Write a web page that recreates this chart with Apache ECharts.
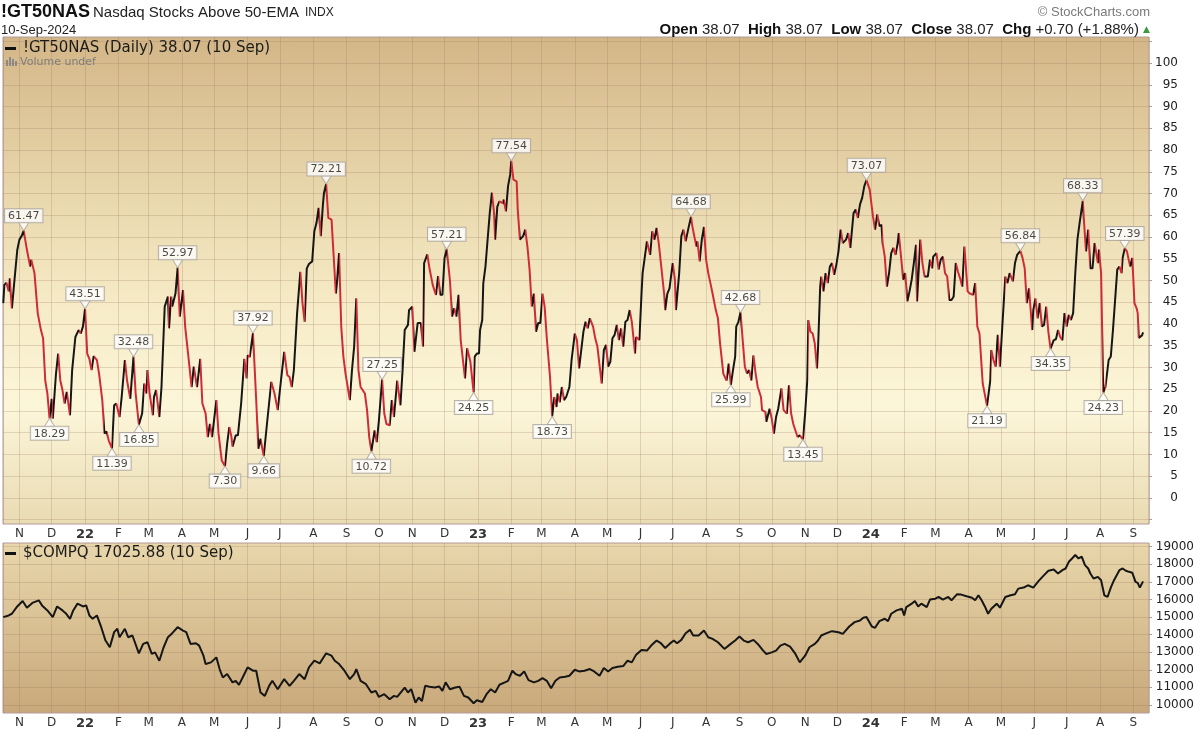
<!DOCTYPE html>
<html>
<head>
<meta charset="utf-8">
<title>!GT50NAS Nasdaq Stocks Above 50-EMA</title>
<script src="https://cdn.jsdelivr.net/npm/echarts@6/dist/echarts.min.js"></script>
<style>
html, body { margin: 0; padding: 0; background: #fff; }
#chart { width: 1200px; height: 731px; }
</style>
</head>
<body>
<div id="chart"></div>
<script>
// !GT50NAS daily closes (turning points only)
const gtDates = [
  '2021-10-17','2021-10-18','2021-10-20','2021-10-22','2021-10-23','2021-10-25','2021-10-27','2021-10-28','2021-10-30',
  '2021-11-01','2021-11-03','2021-11-05','2021-11-08','2021-11-11','2021-11-12','2021-11-15','2021-11-18','2021-11-21','2021-11-23','2021-11-25','2021-11-27','2021-11-29',
  '2021-12-01','2021-12-02','2021-12-05','2021-12-07','2021-12-09','2021-12-11','2021-12-13','2021-12-15','2021-12-18','2021-12-20','2021-12-23','2021-12-26','2021-12-28','2021-12-30',
  '2022-01-01','2022-01-03','2022-01-05','2022-01-07','2022-01-09','2022-01-12','2022-01-14','2022-01-17','2022-01-19','2022-01-21','2022-01-23','2022-01-26','2022-01-28','2022-01-30',
  '2022-02-02','2022-02-04','2022-02-07','2022-02-09','2022-02-12','2022-02-15','2022-02-17','2022-02-20','2022-02-23','2022-02-25','2022-02-27','2022-02-28',
  '2022-03-02','2022-03-05','2022-03-06','2022-03-08','2022-03-11','2022-03-13','2022-03-16','2022-03-19','2022-03-20','2022-03-22','2022-03-23','2022-03-26','2022-03-28','2022-03-30',
  '2022-04-02','2022-04-04','2022-04-07','2022-04-10','2022-04-12','2022-04-15','2022-04-18','2022-04-20','2022-04-23','2022-04-25','2022-04-27','2022-04-29',
  '2022-05-03','2022-05-05','2022-05-08','2022-05-11','2022-05-13','2022-05-15','2022-05-17','2022-05-18','2022-05-21','2022-05-23','2022-05-26','2022-05-29','2022-05-31',
  '2022-06-01','2022-06-03','2022-06-06','2022-06-09','2022-06-11','2022-06-13','2022-06-16','2022-06-19','2022-06-23','2022-06-26','2022-06-29',
  '2022-07-02','2022-07-05','2022-07-08','2022-07-10','2022-07-12','2022-07-14','2022-07-17','2022-07-20','2022-07-22','2022-07-24','2022-07-26','2022-07-28','2022-07-31',
  '2022-08-02','2022-08-04','2022-08-06','2022-08-08','2022-08-10','2022-08-11','2022-08-13','2022-08-15','2022-08-18','2022-08-20','2022-08-22','2022-08-23','2022-08-25','2022-08-27','2022-08-29','2022-08-31',
  '2022-09-04','2022-09-06','2022-09-08','2022-09-10','2022-09-12','2022-09-14','2022-09-18','2022-09-20','2022-09-22','2022-09-24','2022-09-27','2022-09-29',
  '2022-10-01','2022-10-04','2022-10-06','2022-10-08','2022-10-11','2022-10-13','2022-10-15','2022-10-18','2022-10-21','2022-10-23','2022-10-25','2022-10-28','2022-10-29',
  '2022-11-01','2022-11-03','2022-11-06','2022-11-09','2022-11-11','2022-11-12','2022-11-15','2022-11-17','2022-11-20','2022-11-23','2022-11-25','2022-11-27','2022-11-29',
  '2022-12-01','2022-12-03','2022-12-06','2022-12-08','2022-12-10','2022-12-12','2022-12-14','2022-12-16','2022-12-20','2022-12-22','2022-12-25','2022-12-28','2022-12-29','2022-12-31',
  '2023-01-02','2023-01-03','2023-01-05','2023-01-06','2023-01-08','2023-01-10','2023-01-12','2023-01-14','2023-01-16','2023-01-17','2023-01-19','2023-01-21','2023-01-24','2023-01-25','2023-01-27','2023-01-29','2023-01-31',
  '2023-02-01','2023-02-03','2023-02-06','2023-02-07','2023-02-09','2023-02-12','2023-02-14','2023-02-16','2023-02-18','2023-02-20','2023-02-22','2023-02-24','2023-02-26','2023-02-28',
  '2023-03-02','2023-03-04','2023-03-06','2023-03-09','2023-03-11','2023-03-13','2023-03-15','2023-03-16','2023-03-18','2023-03-20','2023-03-22','2023-03-24','2023-03-27','2023-03-29',
  '2023-04-01','2023-04-03','2023-04-05','2023-04-09','2023-04-11','2023-04-13','2023-04-15','2023-04-18','2023-04-20','2023-04-22','2023-04-26','2023-04-28','2023-04-30',
  '2023-05-02','2023-05-04','2023-05-06','2023-05-08','2023-05-10','2023-05-12','2023-05-14','2023-05-16','2023-05-18','2023-05-20','2023-05-22','2023-05-24','2023-05-27','2023-05-28','2023-05-31',
  '2023-06-02','2023-06-03','2023-06-06','2023-06-07','2023-06-10','2023-06-12','2023-06-14','2023-06-16','2023-06-18','2023-06-20','2023-06-23','2023-06-24','2023-06-26','2023-06-28',
  '2023-07-01','2023-07-03','2023-07-04','2023-07-07','2023-07-09','2023-07-11','2023-07-13','2023-07-16','2023-07-18','2023-07-19','2023-07-21','2023-07-23','2023-07-24','2023-07-26','2023-07-28','2023-07-30',
  '2023-08-01','2023-08-03','2023-08-05','2023-08-07','2023-08-10','2023-08-12','2023-08-14','2023-08-17','2023-08-19','2023-08-20','2023-08-22','2023-08-24','2023-08-26','2023-08-28','2023-08-29','2023-08-31',
  '2023-09-02','2023-09-04','2023-09-06','2023-09-08','2023-09-10','2023-09-12','2023-09-14','2023-09-16','2023-09-18','2023-09-21','2023-09-22','2023-09-25','2023-09-26','2023-09-29',
  '2023-10-01','2023-10-03','2023-10-05','2023-10-07','2023-10-10','2023-10-12','2023-10-15','2023-10-17','2023-10-19','2023-10-21','2023-10-23','2023-10-25','2023-10-27','2023-10-30',
  '2023-11-01','2023-11-03','2023-11-04','2023-11-06','2023-11-08','2023-11-10','2023-11-12','2023-11-13','2023-11-15','2023-11-16','2023-11-18','2023-11-20','2023-11-22','2023-11-24','2023-11-26','2023-11-28','2023-11-30',
  '2023-12-02','2023-12-04','2023-12-06','2023-12-09','2023-12-11','2023-12-13','2023-12-16','2023-12-18','2023-12-20','2023-12-22','2023-12-24','2023-12-26','2023-12-28','2023-12-31',
  '2024-01-03','2024-01-05','2024-01-07','2024-01-09','2024-01-11','2024-01-12','2024-01-14','2024-01-16','2024-01-18','2024-01-20','2024-01-22','2024-01-24','2024-01-26','2024-01-27','2024-01-30','2024-01-31',
  '2024-02-02','2024-02-04','2024-02-06','2024-02-08','2024-02-10','2024-02-12','2024-02-13','2024-02-16','2024-02-18','2024-02-20','2024-02-23','2024-02-25','2024-02-27','2024-02-28',
  '2024-03-02','2024-03-04','2024-03-06','2024-03-08','2024-03-10','2024-03-12','2024-03-14','2024-03-16','2024-03-18','2024-03-20','2024-03-22','2024-03-24','2024-03-26','2024-03-28','2024-03-31',
  '2024-04-02','2024-04-05','2024-04-07','2024-04-09','2024-04-11','2024-04-13','2024-04-14','2024-04-17','2024-04-18','2024-04-21','2024-04-22','2024-04-24','2024-04-26','2024-04-28','2024-04-30',
  '2024-05-02','2024-05-05','2024-05-07','2024-05-09','2024-05-12','2024-05-14','2024-05-16','2024-05-19','2024-05-21','2024-05-23','2024-05-25','2024-05-27','2024-05-30','2024-05-31',
  '2024-06-02','2024-06-04','2024-06-06','2024-06-08','2024-06-10','2024-06-12','2024-06-14','2024-06-16','2024-06-19','2024-06-21','2024-06-23','2024-06-25','2024-06-27','2024-06-29',
  '2024-07-01','2024-07-03','2024-07-05','2024-07-07','2024-07-09','2024-07-11','2024-07-13','2024-07-16','2024-07-17','2024-07-19','2024-07-21','2024-07-23','2024-07-25','2024-07-27','2024-07-30','2024-07-31',
  '2024-08-02','2024-08-04','2024-08-06','2024-08-07','2024-08-09','2024-08-11','2024-08-13','2024-08-15','2024-08-17','2024-08-19','2024-08-21','2024-08-22','2024-08-24','2024-08-26','2024-08-29','2024-08-31',
  '2024-09-02','2024-09-04','2024-09-05','2024-09-06','2024-09-09','2024-09-10'
]
const gtValues = [
  44.8, 49, 49.5, 47.5, 50.5, 43.6, 49, 49.4, 57,
  59.4, 60.2, 61.47, 57, 53.2, 54.8, 51.7, 42.5, 38.6, 36.7, 27, 24, 18.29,
  22.8, 18.2, 28.6, 33.2, 27, 24.8, 21.7, 24.4, 19, 29.4, 37, 38.6, 37.8, 39.4,
  43.51, 33.2, 32, 29.4, 32.6, 31.7, 28.6, 22.5, 14.8, 15.3, 13.2, 11.39, 21.3, 21.7,
  18.6, 23.2, 31.7, 27, 22.8, 32.48, 24, 16.85, 19.4, 26.3, 24, 29.4,
  24, 19, 23.2, 24.8, 18.6, 25.5, 44, 46.3, 39, 46.3, 44, 47, 52.97, 41.7,
  47.8, 39.4, 32.5, 25.5, 30.2, 25.5, 32, 21.7, 19.4, 14, 17, 14,
  22.5, 14.8, 8.6, 7.3, 12.5, 16.3, 14, 11.8, 14.4, 14.4, 21.7, 32, 27.5,
  32.8, 32.4, 37.92, 22.5, 11.3, 13.6, 9.66, 17, 26.7, 24, 20.2,
  27, 33.6, 28.2, 27.8, 25.5, 29.4, 42.5, 52, 44.8, 40.5, 52.8, 53.8, 54.4,
  61.3, 63.2, 66.7, 60.2, 67.5, 70.2, 72.21, 64.4, 64, 55.5, 47, 49.4, 56.3, 39.4, 32.5, 28.6,
  22.5, 29.4, 34.8, 45.9, 29.4, 25.5, 24, 20.2, 14, 10.72, 15.5, 12.8,
  17.8, 27.25, 19.4, 17, 16.7, 22.5, 18.6, 27, 21.3, 29.4, 38.6, 39.8, 43.2,
  44, 33.6, 40.2, 40.2, 34.8, 54, 56, 52.8, 49, 46.7, 51, 46.7, 46.7,
  55.2, 57.21, 50, 41.7, 43.6, 41.7, 46.7, 36.3, 27.5, 34.4, 31.3, 24.25, 32.5, 33.2,
  33.2, 38.6, 40.9, 49.4, 53.2, 59.4, 65.5, 70.2, 65.5, 59.4, 67, 68.2, 67.8, 68.6, 65.9, 71.7, 74.4,
  77.54, 73.2, 72.8, 66.3, 59.4, 60.2, 61.7, 57.8, 52.5, 44, 47, 38.2, 40.2, 40.2,
  47, 44, 36.7, 27.8, 18.73, 23.2, 20.9, 24, 22, 25.5, 22.5, 23.2, 25.5, 31.7,
  37.8, 36.3, 29.8, 38.2, 40.5, 39, 41.3, 39.4, 36.7, 34.8, 26.3, 34, 35.2,
  30.2, 31.3, 36.7, 37.5, 39.8, 36.3, 39, 34.8, 40.5, 40.9, 43.2, 40.5, 33.2, 37, 36.3,
  47, 51.7, 57.1, 59, 55.9, 61.3, 59.4, 62.1, 58.6, 54, 47, 43.2, 47, 48.2,
  54, 50.2, 43.2, 51.7, 60.2, 61.7, 59, 62.5, 64.68, 62.8, 60.2, 57.8, 59, 54.4, 59.4, 62.3,
  54.8, 51.7, 49.4, 47, 43.2, 41.3, 35.5, 28.6, 27.5, 27, 30.9, 25.99, 29.4, 32.5, 39.4, 40.5,
  42.68, 36.3, 30.2, 28.6, 29.4, 27, 32.8, 28.6, 25.5, 23.2, 20.2, 19.8, 17.5, 20.5,
  18.2, 14.8, 18.6, 20.5, 25.2, 20.2, 19.4, 25.9, 19.4, 17, 15.5, 14, 14.4, 13.45,
  19.4, 27, 40.9, 38.2, 37.8, 35.5, 29.8, 34.4, 48.6, 50.9, 47.5, 51.7, 49.4, 53.2, 54, 51.3, 53.6,
  56.7, 61.7, 58.6, 59.4, 60.9, 57.5, 65.5, 66.3, 64.4, 67.5, 69, 71.7, 73.07, 70.9,
  64.8, 61.7, 65.2, 62.5, 62.8, 58.6, 55.5, 48.6, 51.7, 56.3, 57.5, 55.9, 58.6, 60.9, 53.2, 50.2,
  51.7, 45.2, 47.5, 50.2, 54, 58.2, 45.2, 59.4, 54, 50.9, 50.9, 54.8, 52.8, 55.5,
  56.3, 52.5, 54.8, 55.5, 51.7, 50.9, 45.5, 45.5, 46.3, 54, 52, 50.5, 48.6, 57.8, 47.5,
  47, 46.7, 49.4, 39.4, 37.8, 30.2, 26.3, 22.5, 21.19, 27, 34, 31.7, 30.2, 37.5, 30.2,
  38.6, 50.9, 49.4, 51.7, 49.8, 54, 55.9, 56.84, 55.2, 52.8, 44.8, 48.2, 38.6, 43.2,
  45.9, 41.3, 44.8, 39.4, 39.8, 44, 38.2, 34.35, 36.3, 36.5, 38.6, 37, 36.3, 42.5,
  39.4, 42.1, 40.9, 42.5, 51.7, 59.4, 63.2, 68.33, 64, 56.7, 61.7, 52.8, 52.8, 58.6, 54, 57.1,
  51.7, 24.23, 25.5, 25.2, 31.7, 32.5, 38.6, 45.5, 52.5, 53.2, 51.7, 55.2, 57.39, 56.7, 53.2, 55.2,
  44.8, 43.6, 42.5, 36.8, 37.37, 38.07
]

// annotated swing highs / lows
const peakDates = ['2021-11-05','2022-01-01','2022-02-15','2022-03-28','2022-06-06','2022-08-13','2022-10-04','2022-12-03',
  '2023-02-01','2023-07-18','2023-09-02','2023-12-28','2024-05-19','2024-07-16','2024-08-24']
const troughDates = ['2021-11-29','2022-01-26','2022-02-20','2022-05-11','2022-06-16','2022-09-24','2022-12-28',
  '2023-03-11','2023-08-24','2023-10-30','2024-04-18','2024-06-16','2024-08-04']

// $COMPQ closes
const compDates = [
  '2021-10-17','2021-10-22','2021-10-25','2021-10-30',
  '2021-11-04','2021-11-08','2021-11-13','2021-11-19','2021-11-22','2021-11-27',
  '2021-12-02','2021-12-06','2021-12-11','2021-12-14','2021-12-18','2021-12-21','2021-12-25','2021-12-30',
  '2022-01-02','2022-01-05','2022-01-08','2022-01-12','2022-01-16','2022-01-20','2022-01-24','2022-01-28','2022-01-31',
  '2022-02-02','2022-02-07','2022-02-10','2022-02-14','2022-02-20','2022-02-24','2022-02-28',
  '2022-03-04','2022-03-07','2022-03-11','2022-03-15','2022-03-19','2022-03-23','2022-03-28',
  '2022-04-02','2022-04-05','2022-04-09','2022-04-14','2022-04-17','2022-04-21','2022-04-23','2022-04-28',
  '2022-05-03','2022-05-06','2022-05-09','2022-05-13','2022-05-18','2022-05-21','2022-05-24','2022-05-29',
  '2022-06-01','2022-06-06','2022-06-09','2022-06-13','2022-06-17','2022-06-21','2022-06-24','2022-06-29',
  '2022-07-05','2022-07-10','2022-07-14','2022-07-19','2022-07-24','2022-07-28',
  '2022-08-02','2022-08-07','2022-08-13','2022-08-18','2022-08-21','2022-08-25','2022-08-30',
  '2022-09-04','2022-09-08','2022-09-10','2022-09-14','2022-09-19','2022-09-24','2022-09-28',
  '2022-10-01','2022-10-06','2022-10-11','2022-10-15','2022-10-18','2022-10-25','2022-10-28','2022-10-31',
  '2022-11-04','2022-11-07','2022-11-10','2022-11-13','2022-11-17','2022-11-22','2022-11-26','2022-11-29',
  '2022-12-02','2022-12-06','2022-12-11','2022-12-15','2022-12-19','2022-12-23','2022-12-28','2022-12-31',
  '2023-01-05','2023-01-09','2023-01-13','2023-01-17','2023-01-21','2023-01-26','2023-01-29',
  '2023-02-02','2023-02-05','2023-02-09','2023-02-13','2023-02-17','2023-02-22','2023-02-26',
  '2023-03-02','2023-03-06','2023-03-10','2023-03-14','2023-03-18','2023-03-23','2023-03-27',
  '2023-04-01','2023-04-05','2023-04-10','2023-04-15','2023-04-19','2023-04-24','2023-04-28',
  '2023-05-02','2023-05-06','2023-05-11','2023-05-16','2023-05-20','2023-05-24','2023-05-28',
  '2023-06-02','2023-06-07','2023-06-11','2023-06-16','2023-06-20','2023-06-24','2023-06-28',
  '2023-07-02','2023-07-05','2023-07-09','2023-07-13','2023-07-17','2023-07-20','2023-07-25','2023-07-30',
  '2023-08-03','2023-08-07','2023-08-12','2023-08-18','2023-08-23','2023-08-28',
  '2023-09-01','2023-09-05','2023-09-09','2023-09-14','2023-09-18','2023-09-23','2023-09-26',
  '2023-10-01','2023-10-05','2023-10-09','2023-10-13','2023-10-18','2023-10-23','2023-10-27',
  '2023-11-01','2023-11-05','2023-11-10','2023-11-13','2023-11-16','2023-11-21','2023-11-26',
  '2023-12-02','2023-12-06','2023-12-12','2023-12-17','2023-12-22','2023-12-25','2023-12-28',
  '2024-01-02','2024-01-05','2024-01-09','2024-01-14','2024-01-17','2024-01-20','2024-01-25','2024-01-30',
  '2024-02-01','2024-02-03','2024-02-08','2024-02-11','2024-02-14','2024-02-17','2024-02-22','2024-02-25',
  '2024-03-01','2024-03-04','2024-03-08','2024-03-13','2024-03-16','2024-03-21','2024-03-25','2024-03-30',
  '2024-04-04','2024-04-07','2024-04-10','2024-04-13','2024-04-16','2024-04-19','2024-04-22','2024-04-27','2024-04-30',
  '2024-05-05','2024-05-10','2024-05-14','2024-05-17','2024-05-22','2024-05-26','2024-05-31',
  '2024-06-05','2024-06-10','2024-06-14','2024-06-19','2024-06-23','2024-06-27','2024-06-30',
  '2024-07-03','2024-07-06','2024-07-09','2024-07-12','2024-07-15','2024-07-18','2024-07-21','2024-07-23','2024-07-26','2024-07-30',
  '2024-08-02','2024-08-05','2024-08-08','2024-08-11','2024-08-14','2024-08-19','2024-08-22','2024-08-25','2024-08-28','2024-08-31',
  '2024-09-03','2024-09-05','2024-09-07','2024-09-10'
]
const compValues = [
  14995, 15090, 15185, 15600,
  15910, 15530, 15800, 15950, 15660, 15375,
  14995, 15600, 15375, 15220, 14900, 15375, 15760, 15600,
  15660, 15090, 14900, 15090, 14420, 13660, 13280, 14140, 14330,
  13850, 14330, 13850, 13950, 12935, 13470, 13565,
  12900, 12990, 12515, 13280, 13850, 14080, 14420,
  14230, 14140, 13470, 13510, 13375, 12800, 12325, 12420,
  12705, 12040, 11560, 11755, 11280, 11370, 11140, 11755,
  12135, 11945, 11945, 10705, 10515, 11085, 11370, 10895,
  11465, 11085, 11370, 11755, 11465, 12135,
  12515, 12365, 12935, 12800, 12515, 12325, 11945,
  11465, 11755, 12040, 11370, 11180, 10705, 10800,
  10455, 10610, 10325, 10515, 10455, 10990, 10705, 10895,
  10130, 10420, 10225, 11085, 11030, 10990, 11050, 10800,
  11280, 10895, 10990, 11030, 10515, 10420, 10095, 10265,
  10170, 10610, 10895, 10705, 11145, 11280, 11370,
  11945, 11755, 11660, 11905, 11410, 11280, 11370,
  11525, 11370, 10950, 11370, 11560, 11600, 11660,
  12000, 11905, 11945, 12040, 11905, 11660, 12095,
  11905, 12095, 12175, 12210, 12515, 12420, 12860,
  13125, 13090, 13375, 13660, 13510, 13240, 13470,
  13660, 13510, 13700, 14080, 14270, 13950, 13950, 14230,
  13850, 13755, 13565, 13185, 13430, 13660,
  13890, 13660, 13565, 13700, 13470, 13090, 12900,
  12990, 13090, 13375, 13470, 13320, 12900, 12420,
  12800, 13280, 13470, 13660, 13950, 14080, 14195,
  14135, 14040, 14460, 14710, 14805, 14960, 15000,
  14460, 14385, 14765, 14900, 14765, 15185, 15375, 15470,
  15090, 15565, 15760, 15910, 15600, 15760, 15565, 15990,
  16045, 16140, 15990, 16140, 15950, 16290, 16275, 16180,
  16100, 15950, 16235, 15950, 15600, 15185, 15470, 15760, 15530,
  16140, 16235, 16290, 16615, 16675, 16805, 16675,
  17055, 17380, 17630, 17700, 17475, 17665, 17760,
  18140, 18330, 18525, 18330, 18430, 17950, 17760, 17475, 17190, 17285,
  17095, 16235, 16140, 16675, 17095, 17665, 17760, 17630, 17570, 17515,
  17000, 16940, 16675, 17025.88
]

// axis ticks / labels
const pctTicks = [-5, 0, 5, 10, 15, 20, 25, 30, 35, 40, 45, 50, 55, 60, 65, 70, 75, 80, 85, 90, 95, 100, 105]
const pctLabels = [0, 5, 10, 15, 20, 25, 30, 35, 40, 45, 50, 55, 60, 65, 70, 75, 80, 85, 90, 95, 100]
const compTicks = [10000, 11000, 12000, 13000, 14000, 15000, 16000, 17000, 18000, 19000]
const monthLetters = ['J', 'F', 'M', 'A', 'M', 'J', 'J', 'A', 'S', 'O', 'N', 'D']

const RED = '#cf2b37'
const BLACK = '#161616'
const BORDER = '#b39a9a'
const GRIDLINE = 'rgba(150, 112, 92, 0.24)'

const toTime = s => {
    const p = s.split('-').map(Number)
    return new Date(p[0], p[1] - 1, p[2]).getTime()
}
const xMin = new Date(2021, 9, 16, 18).getTime()
const xMax = new Date(2024, 8, 15, 12).getTime()

let gtData = gtDates.map((d, i) => [toTime(d), gtValues[i]])
let compData = compDates.map((d, i) => [toTime(d), compValues[i]])

// stretches where the line falls get painted red
let fallPieces = []
for (let i = 1; i < gtData.length; i++) {
    if (gtData[i][1] < gtData[i - 1][1]) {
        let last = fallPieces[fallPieces.length - 1]
        if (last && last.lte === gtData[i - 1][0]) {
            last.lte = gtData[i][0]
        } else {
            fallPieces.push({ gte: gtData[i - 1][0], lte: gtData[i][0], color: RED })
        }
    }
}

const pointOn = d => [toTime(d), gtValues[gtDates.indexOf(d)]]
let peakData = peakDates.map(pointOn)
let troughData = troughDates.map(pointOn)

const monthLabel = (value) => {
    let d = new Date(value)
    if (d.getMonth() === 0) return '{y|' + String(d.getFullYear()).slice(2) + '}'
    return monthLetters[d.getMonth()]
}

const xAxisBase = (gridIndex) => ({
    gridIndex: gridIndex,
    type: 'time',
    min: xMin,
    max: xMax,
    splitNumber: 40,
    maxInterval: 31 * 86400000,
    axisLine: { show: false },
    axisTick: { show: false },
    axisLabel: {
        formatter: monthLabel,
        fontFamily: 'DejaVu Sans',
        fontSize: 12,
        color: '#333',
        margin: 4,
        showMinLabel: false,
        showMaxLabel: false,
        rich: { y: { fontFamily: 'DejaVu Sans', fontSize: 13, fontWeight: 'bold', color: '#333' } }
    },
    splitLine: { show: true, lineStyle: { color: GRIDLINE, width: 1 } }
})

const calloutLabel = {
    show: true,
    formatter: p => p.value[1].toFixed(2),
    fontFamily: 'DejaVu Sans',
    fontSize: 11,
    lineHeight: 12,
    color: '#1a1a1a',
    backgroundColor: '#fff',
    borderColor: '#a9a29b',
    borderWidth: 1,
    padding: [1, 3, 0, 3],
    distance: 0
}

let chart = echarts.init(document.getElementById('chart'))

let options = {
    animation: false,
    backgroundColor: '#fff',
    grid: [
        {
            left: 3, right: 51, top: 37, height: 487,
            show: true,
            outerBoundsMode: 'none',
            borderColor: BORDER,
            borderWidth: 1,
            backgroundColor: new echarts.graphic.LinearGradient(0, 0, 0, 1, [
                { offset: 0, color: '#d3b687' },
                { offset: 0.3, color: '#e7d5aa' },
                { offset: 0.55, color: '#f6ebc6' },
                { offset: 0.76, color: '#fcf6d9' },
                { offset: 1, color: '#e9dbb2' }
            ])
        },
        {
            left: 3, right: 51, top: 543, height: 170,
            show: true,
            outerBoundsMode: 'none',
            borderColor: BORDER,
            borderWidth: 1,
            backgroundColor: new echarts.graphic.LinearGradient(0, 0, 0, 1, [
                { offset: 0, color: '#e8d7ab' },
                { offset: 1, color: '#c8a87a' }
            ])
        }
    ],
    xAxis: [xAxisBase(0), xAxisBase(1)],
    yAxis: [
        {
            gridIndex: 0,
            type: 'value',
            position: 'right',
            min: -6,
            max: 106,
            axisLine: { show: false },
            axisTick: { show: true, length: 3, customValues: pctTicks, lineStyle: { color: BORDER } },
            axisLabel: {
                customValues: pctLabels,
                formatter: v => String(v),
                align: 'right',
                margin: 29,
                fontFamily: 'DejaVu Sans',
                fontSize: 12,
                color: '#222'
            },
            splitLine: { show: true, lineStyle: { color: GRIDLINE, width: 1 } }
        },
        {
            gridIndex: 1,
            type: 'value',
            position: 'right',
            min: 9540,
            max: 19210,
            axisLine: { show: false },
            axisTick: { show: true, length: 3, customValues: compTicks, lineStyle: { color: BORDER } },
            axisLabel: {
                customValues: compTicks,
                formatter: v => String(v),
                align: 'right',
                margin: 45,
                fontFamily: 'DejaVu Sans',
                fontSize: 12,
                color: '#222'
            },
            splitLine: { show: true, lineStyle: { color: GRIDLINE, width: 1 } }
        }
    ],
    visualMap: {
        type: 'piecewise',
        show: false,
        seriesIndex: 0,
        dimension: 0,
        pieces: fallPieces,
        outOfRange: { color: BLACK }
    },
    series: [
        {
            name: '!GT50NAS',
            type: 'line',
            xAxisIndex: 0,
            yAxisIndex: 0,
            data: gtData,
            showSymbol: false,
            symbol: 'none',
            lineStyle: { width: 2 },
            silent: true
        },
        {
            name: 'peaks',
            type: 'scatter',
            xAxisIndex: 0,
            yAxisIndex: 0,
            data: peakData,
            symbol: 'path://M0,0L10,0L5,8Z',
            symbolSize: [10, 8],
            symbolOffset: [0, -4],
            itemStyle: { color: '#fff', borderColor: '#a9a29b', borderWidth: 1 },
            label: Object.assign({ position: 'top' }, calloutLabel),
            silent: true,
            z: 5
        },
        {
            name: 'troughs',
            type: 'scatter',
            xAxisIndex: 0,
            yAxisIndex: 0,
            data: troughData,
            symbol: 'path://M5,0L10,8L0,8Z',
            symbolSize: [10, 8],
            symbolOffset: [0, 4],
            itemStyle: { color: '#fff', borderColor: '#a9a29b', borderWidth: 1 },
            label: Object.assign({ position: 'bottom' }, calloutLabel),
            silent: true,
            z: 5
        },
        {
            name: '$COMPQ',
            type: 'line',
            xAxisIndex: 1,
            yAxisIndex: 1,
            data: compData,
            showSymbol: false,
            symbol: 'none',
            lineStyle: { width: 2, color: BLACK },
            itemStyle: { color: BLACK },
            silent: true
        }
    ],
    graphic: [
        { type: 'text', x: 1, y: 12, style: { text: '!GT50NAS', font: 'bold 18px "Liberation Sans"', fill: '#111', textVerticalAlign: 'middle', verticalAlign: 'middle' } },
        { type: 'text', x: 93, y: 13, style: { text: 'Nasdaq Stocks Above 50-EMA', font: '15px "Liberation Sans"', fill: '#222', textVerticalAlign: 'middle', verticalAlign: 'middle' } },
        { type: 'text', x: 305, y: 13, style: { text: 'INDX', font: '12px "Liberation Sans"', fill: '#222', textVerticalAlign: 'middle', verticalAlign: 'middle' } },
        { type: 'text', x: 1, y: 30, style: { text: '10-Sep-2024', font: '13px "Liberation Sans"', fill: '#222', textVerticalAlign: 'middle', verticalAlign: 'middle' } },
        { type: 'text', x: 1150, y: 12, style: { text: '\u00a9 StockCharts.com', font: '13px "Liberation Sans"', fill: '#7a7a7a', textAlign: 'right', align: 'right', textVerticalAlign: 'middle', verticalAlign: 'middle' } },
        {
            type: 'text', x: 1150, y: 30,
            style: {
                text: '{b|Open} 38.07  {b|High} 38.07  {b|Low} 38.07  {b|Close} 38.07  {b|Chg} +0.70 (+1.88%) {g|\u25b2}',
                font: '15px "Liberation Sans"', fill: '#222',
                textAlign: 'right', align: 'right', textVerticalAlign: 'middle', verticalAlign: 'middle',
                rich: {
                    b: { fontFamily: 'Liberation Sans', fontSize: 15, fontWeight: 'bold', fill: '#111' },
                    g: { fontFamily: 'DejaVu Sans', fontSize: 9, fill: '#3c9a3c' }
                }
            }
        },
        // panel legends
        { type: 'rect', shape: { x: 5, y: 47, width: 11, height: 3 }, style: { fill: '#111' } },
        { type: 'text', x: 23, y: 48.5, style: { text: '!GT50NAS (Daily) 38.07 (10 Sep)', font: '15px "DejaVu Sans"', fill: '#1a1a1a', textVerticalAlign: 'middle', verticalAlign: 'middle' } },
        { type: 'rect', shape: { x: 6, y: 60, width: 2, height: 6 }, style: { fill: '#8a8a8a' } },
        { type: 'rect', shape: { x: 9, y: 57, width: 2, height: 9 }, style: { fill: '#8a8a8a' } },
        { type: 'rect', shape: { x: 12, y: 59, width: 2, height: 7 }, style: { fill: '#8a8a8a' } },
        { type: 'rect', shape: { x: 15, y: 61, width: 2, height: 5 }, style: { fill: '#8a8a8a' } },
        { type: 'text', x: 20, y: 62, style: { text: 'Volume undef', font: '11px "DejaVu Sans"', fill: '#7d7d7d', textVerticalAlign: 'middle', verticalAlign: 'middle' } },
        { type: 'rect', shape: { x: 5, y: 552, width: 11, height: 3 }, style: { fill: '#111' } },
        { type: 'text', x: 23, y: 553.5, style: { text: '$COMPQ 17025.88 (10 Sep)', font: '15px "DejaVu Sans"', fill: '#1a1a1a', textVerticalAlign: 'middle', verticalAlign: 'middle' } }
    ]
}

chart.setOption(options)
window.addEventListener('resize', () => { chart.resize() })
</script>
</body>
</html>
